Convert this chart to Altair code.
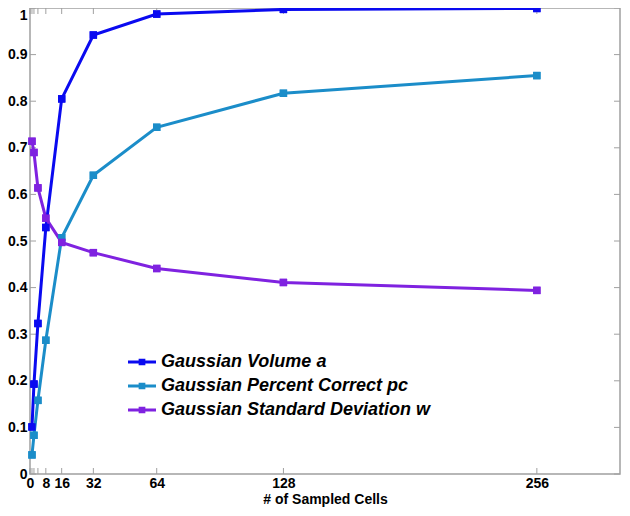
import altair as alt
import pandas as pd

# ---- data ----
cells = [1, 2, 4, 8, 16, 32, 64, 128, 256]
volume_a = [0.101, 0.193, 0.323, 0.529, 0.805, 0.942, 0.987, 0.997, 0.999]
percent_pc = [0.041, 0.083, 0.158, 0.287, 0.507, 0.641, 0.744, 0.817, 0.855]
std_w = [0.714, 0.690, 0.614, 0.549, 0.497, 0.475, 0.441, 0.411, 0.394]

series_names = [
    "Gaussian Volume a",
    "Gaussian Percent Correct pc",
    "Gaussian Standard Deviation w",
]
series_colors = ["#0a0af0", "#1b8dc9", "#7f22e0"]

x_tick_values = [0, 1, 2, 4, 8, 16, 32, 64, 128, 256]
x_label_values = [0, 8, 16, 32, 64, 128, 256]
y_tick_values = [0, 0.1, 0.2, 0.3, 0.4, 0.5, 0.6, 0.7, 0.8, 0.9, 1]

x_title = "# of Sampled Cells"

# ---- tables ----
rows = []
for name, vals in zip(series_names, [volume_a, percent_pc, std_w]):
    for c, v in zip(cells, vals):
        rows.append({"cells": c, "value": v, "series": name})
df = pd.DataFrame(rows)
xt = pd.DataFrame({"cells": x_tick_values})
yt = pd.DataFrame({"value": y_tick_values})

W, H = 590, 466
FONT = "Liberation Sans"
FRAME = "#a0a0a0"

xs = alt.Scale(domain=[0, 298], nice=False, zero=False)
ys = alt.Scale(domain=[0, 1], nice=False)
cs = alt.Scale(domain=series_names, range=series_colors)

x_axis = alt.Axis(
    values=x_label_values,
    title=x_title,
    grid=False,
    domain=False,
    ticks=False,
    labelFont=FONT,
    labelFontSize=14,
    labelFontWeight="bold",
    labelColor="black",
    labelPadding=2,
    labelFlush=False,
    labelOverlap=False,
    titleFont=FONT,
    titleFontSize=14,
    titleFontWeight="bold",
    titleColor="black",
    titlePadding=2,
)
y_axis = alt.Axis(
    values=y_tick_values,
    format=".1~f",
    title="",
    grid=False,
    domain=False,
    ticks=False,
    labelFont=FONT,
    labelFontSize=14,
    labelFontWeight="bold",
    labelColor="black",
    labelPadding=3,
    labelOffset={"condition": {"test": "datum.value == 1", "value": 7}, "value": 0},
    labelFlush=False,
    labelOverlap=False,
)

legend_symbol = "M-1.75,-0.19H1.75V0.19H-1.75Z M-0.42,-0.42H0.42V0.42H-0.42Z"
legend = alt.Legend(
    title=None,
    orient="none",
    legendX=103,
    legendY=345,
    symbolType=legend_symbol,
    symbolSize=256,
    symbolStrokeWidth=0,
    labelFont=FONT,
    labelFontSize=18,
    labelFontWeight="bold",
    labelFontStyle="italic",
    labelColor="black",
    labelOffset=10,
    labelLimit=0,
    rowPadding=6,
    padding=0,
)

X = alt.X("cells:Q", scale=xs, axis=x_axis)
Y = alt.Y("value:Q", scale=ys, axis=y_axis)
C = alt.Color("series:N", scale=cs, sort=series_names, legend=legend)

points_under = alt.Chart(df).mark_point(
    shape="square", filled=True, size=55, opacity=1
).encode(x=X, y=Y, color=C)

lines = alt.Chart(df).mark_line(strokeWidth=3).encode(x=X, y=Y, color=C)

points = alt.Chart(df).mark_point(
    shape="square", filled=True, size=55, opacity=1
).encode(x=X, y=Y, color=C)

tick_style = dict(color=FRAME, strokeWidth=1)
xt_bottom = alt.Chart(xt).mark_rule(**tick_style).encode(
    x=X, y=alt.value(H), y2=alt.value(H - 6)
)
xt_top = alt.Chart(xt).mark_rule(**tick_style).encode(
    x=X, y=alt.value(0), y2=alt.value(6)
)
yt_left = alt.Chart(yt).mark_rule(**tick_style).encode(
    y=Y, x=alt.value(0), x2=alt.value(6)
)
yt_right = alt.Chart(yt).mark_rule(**tick_style).encode(
    y=Y, x=alt.value(W - 6), x2=alt.value(W)
)

chart = (
    alt.layer(points_under, xt_bottom, xt_top, yt_left, yt_right, lines, points)
    .properties(
        width=W,
        height=H,
        autosize=alt.AutoSizeParams(type="none"),
        padding={"left": 22, "top": 0, "right": 2, "bottom": 34},
        background="white",
    )
    .configure_view(stroke=FRAME, strokeWidth=1.5)
)

chart.save("out.html", embed_options={"renderer": "svg", "actions": False})
